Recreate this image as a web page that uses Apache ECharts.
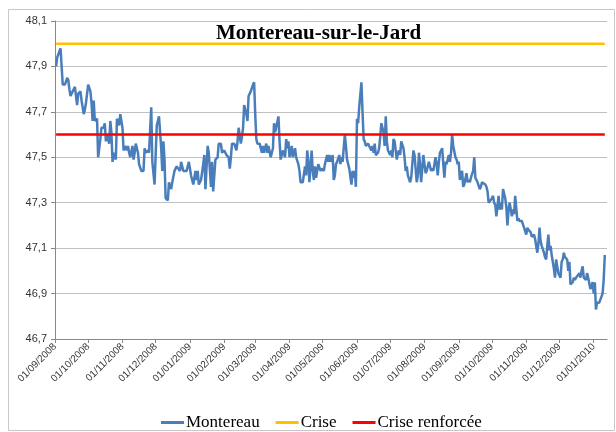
<!DOCTYPE html>
<html lang="fr">
<head>
  <meta charset="UTF-8">
  <title>Montereau-sur-le-Jard</title>
  <script src="https://cdn.jsdelivr.net/npm/echarts@6.0.0/dist/echarts.min.js"></script>
  <style>
    html, body { margin: 0; padding: 0; background: #fff; }
    #chart { width: 616px; height: 432px; }
  </style>
</head>
<body>
  <div id="chart"></div>
  <script>
    // jour 0 = 01/09/2008
    const startDate = '01/09/2008';
    const dayNo = [
      1, 2, 3, 5, 7, 9, 11, 12, 13, 14, 16, 18, 20, 21, 23, 24, 26, 27, 28, 30,
      32, 33, 34, 35, 36, 38, 39, 41, 42, 44, 45, 46, 47, 49, 50, 51, 52, 53, 55, 56,
      58, 59, 61, 62, 64, 65, 66, 67, 68, 70, 71, 72, 73, 75, 76, 78, 80, 81, 82, 84,
      85, 87, 88, 90, 91, 92, 93, 94, 96, 97, 98, 99, 100, 102, 103, 105, 106, 108, 110, 111,
      113, 114, 116, 117, 119, 121, 123, 125, 127, 128, 129, 130, 132, 134, 135, 136, 138, 139, 141, 142,
      143, 144, 145, 147, 148, 150, 151, 153, 155, 157, 158, 159, 160, 162, 164, 165, 166, 168, 169, 170,
      171, 173, 174, 175, 177, 179, 180, 181, 182, 183, 185, 187, 188, 189, 191, 192, 193, 195, 197, 198,
      199, 200, 202, 203, 204, 206, 208, 209, 210, 211, 212, 214, 215, 217, 218, 220, 221, 222, 224, 226,
      227, 228, 229, 230, 232, 233, 234, 235, 236, 238, 240, 241, 243, 244, 246, 247, 248, 249, 251, 252,
      253, 254, 255, 257, 258, 259, 260, 262, 263, 264, 265, 266, 268, 269, 270, 271, 272, 273, 274, 275,
      277, 278, 279, 280, 281, 283, 284, 286, 287, 288, 289, 290, 292, 293, 294, 295, 297, 298, 299, 300,
      301, 303, 304, 305, 306, 307, 309, 310, 311, 312, 313, 315, 316, 317, 318, 319, 321, 322, 323, 324,
      325, 327, 328, 329, 330, 331, 333, 334, 335, 336, 338, 339, 340, 341, 342, 344, 345, 346, 347, 348,
      350, 351, 352, 353, 354, 356, 357, 358, 359, 360, 362, 363, 364, 365, 366, 368, 369, 370, 372, 373,
      374, 375, 376, 378, 379, 380, 381, 382, 384, 385, 386, 387, 389, 390, 391, 392, 393, 395, 396, 397,
      398, 399, 401, 402, 403, 404, 405, 407, 408, 409, 410, 411, 413, 414, 415, 416, 418, 419, 420, 421,
      422, 424, 425, 426, 427, 428, 430, 431, 432, 433, 434, 436, 437, 438, 439, 440, 442, 443, 444, 445,
      446, 447, 448, 449, 451, 452, 453, 454, 455, 457, 458, 459, 460, 461, 463, 464, 465, 466, 468, 469,
      470, 471, 472, 474, 475, 476, 477, 478, 480, 481, 482, 483, 484, 486, 487, 488, 489, 490, 491, 492,
      493, 495, 496, 497
    ];
    const montereau = [
      47.90, 47.94, 47.94, 47.98, 47.82, 47.82, 47.85, 47.84, 47.80, 47.77, 47.79, 47.81, 47.73, 47.78, 47.79, 47.75, 47.69, 47.71, 47.74, 47.82,
      47.79, 47.74, 47.66, 47.75, 47.66, 47.67, 47.50, 47.58, 47.63, 47.63, 47.65, 47.57, 47.60, 47.56, 47.66, 47.61, 47.48, 47.52, 47.49, 47.67,
      47.64, 47.69, 47.63, 47.53, 47.55, 47.53, 47.55, 47.52, 47.50, 47.55, 47.49, 47.52, 47.56, 47.52, 47.47, 47.44, 47.44, 47.54, 47.52, 47.53,
      47.52, 47.72, 47.48, 47.38, 47.51, 47.64, 47.66, 47.68, 47.54, 47.44, 47.57, 47.49, 47.32, 47.31, 47.39, 47.36, 47.39, 47.44, 47.46, 47.46,
      47.44, 47.48, 47.44, 47.44, 47.44, 47.48, 47.42, 47.38, 47.44, 47.40, 47.44, 47.38, 47.40, 47.47, 47.51, 47.36, 47.55, 47.52, 47.37, 47.48,
      47.35, 47.42, 47.49, 47.50, 47.56, 47.56, 47.52, 47.53, 47.51, 47.50, 47.45, 47.50, 47.56, 47.56, 47.53, 47.57, 47.63, 47.56, 47.59, 47.63,
      47.73, 47.69, 47.66, 47.77, 47.79, 47.82, 47.83, 47.69, 47.58, 47.56, 47.56, 47.52, 47.55, 47.52, 47.56, 47.52, 47.55, 47.50, 47.54, 47.65,
      47.61, 47.61, 47.68, 47.57, 47.49, 47.53, 47.50, 47.58, 47.54, 47.57, 47.50, 47.55, 47.50, 47.54, 47.50, 47.47, 47.44, 47.39, 47.39, 47.46,
      47.42, 47.53, 47.48, 47.39, 47.53, 47.44, 47.40, 47.46, 47.41, 47.47, 47.44, 47.45, 47.44, 47.47, 47.51, 47.48, 47.51, 47.48, 47.51, 47.40,
      47.42, 47.47, 47.48, 47.51, 47.47, 47.50, 47.48, 47.60, 47.55, 47.49, 47.49, 47.45, 47.38, 47.44, 47.41, 47.44, 47.37, 47.67, 47.65, 47.72,
      47.83, 47.70, 47.58, 47.57, 47.55, 47.56, 47.55, 47.53, 47.55, 47.52, 47.56, 47.51, 47.52, 47.54, 47.59, 47.65, 47.61, 47.55, 47.68, 47.57,
      47.53, 47.51, 47.53, 47.50, 47.58, 47.57, 47.49, 47.52, 47.53, 47.51, 47.57, 47.54, 47.50, 47.44, 47.46, 47.42, 47.39, 47.41, 47.47, 47.53,
      47.51, 47.39, 47.42, 47.52, 47.47, 47.39, 47.51, 47.47, 47.43, 47.44, 47.48, 47.46, 47.44, 47.45, 47.44, 47.50, 47.47, 47.42, 47.48, 47.52,
      47.54, 47.47, 47.41, 47.48, 47.47, 47.51, 47.48, 47.52, 47.60, 47.55, 47.50, 47.49, 47.47, 47.48, 47.40, 47.44, 47.37, 47.38, 47.43, 47.39,
      47.40, 47.39, 47.41, 47.44, 47.50, 47.41, 47.40, 47.39, 47.36, 47.37, 47.39, 47.39, 47.38, 47.37, 47.35, 47.30, 47.30, 47.32, 47.33, 47.30,
      47.29, 47.24, 47.33, 47.27, 47.30, 47.27, 47.36, 47.32, 47.28, 47.20, 47.27, 47.30, 47.24, 47.27, 47.25, 47.33, 47.22, 47.23, 47.22, 47.22,
      47.22, 47.19, 47.19, 47.16, 47.19, 47.18, 47.17, 47.15, 47.15, 47.16, 47.14, 47.08, 47.12, 47.19, 47.13, 47.11, 47.08, 47.06, 47.05, 47.11,
      47.16, 47.09, 47.11, 47.07, 47.01, 46.97, 47.05, 47.05, 46.99, 46.97, 47.04, 47.05, 47.08, 47.06, 47.05, 47.00, 47.04, 46.94, 46.95, 46.97,
      46.96, 46.97, 46.97, 46.99, 46.97, 47.00, 47.02, 46.97, 46.96, 46.99, 46.97, 46.97, 46.92, 46.95, 46.90, 46.95, 46.83, 46.86, 46.86, 46.86,
      46.86, 46.90, 46.96, 47.07
    ];
    const crise = 48.0;
    const criseRenforcee = 47.6;

    const monthLabels = [
      '01/09/2008', '01/10/2008', '01/11/2008', '01/12/2008', '01/01/2009', '01/02/2009',
      '01/03/2009', '01/04/2009', '01/05/2009', '01/06/2009', '01/07/2009', '01/08/2009',
      '01/09/2009', '01/10/2009', '01/11/2009', '01/12/2009', '01/01/2010'
    ];
    const yTicks = [46.7, 46.9, 47.1, 47.3, 47.5, 47.7, 47.9, 48.1];

    // dd/mm/yyyy -> nombre de jours depuis startDate
    function toDay(s) {
      const p = s.split('/');
      const p0 = startDate.split('/');
      return Math.round((Date.UTC(+p[2], +p[1] - 1, +p[0]) - Date.UTC(+p0[2], +p0[1] - 1, +p0[0])) / 86400000);
    }
    const monthDays = monthLabels.map(toDay);
    const labelOf = {};
    monthDays.forEach((d, i) => { labelOf[d] = monthLabels[i]; });

    const chart = echarts.init(document.getElementById('chart'));
    chart.setOption({
      animation: false,
      backgroundColor: '#fff',
      title: {
        text: 'Montereau-sur-le-Jard',
        left: 211, top: 18,
        textStyle: { fontFamily: 'Liberation Serif', fontWeight: 'bold', fontSize: 21, color: '#000' }
      },
      graphic: [{
        type: 'rect', shape: { x: 8.5, y: 9.5, width: 606, height: 421 },
        style: { fill: 'none', stroke: '#c8c8c8', lineWidth: 1 }, silent: true, z: -1
      }],
      legend: {
        left: 156, top: 409,
        icon: 'rect', itemWidth: 23, itemHeight: 3, itemGap: 16,
        textStyle: { fontFamily: 'Liberation Serif', fontSize: 17, color: '#000', padding: [0, 0, 0, -3] },
        data: ['Montereau', 'Crise', 'Crise renforcée']
      },
      grid: { left: 55, right: 9, top: 21, bottom: 93, containLabel: false },
      xAxis: {
        type: 'value', min: 0, max: 499,
        axisLine: { lineStyle: { color: '#888', width: 1 } },
        axisTick: { show: true, length: 4, customValues: monthDays, lineStyle: { color: '#888' } },
        axisLabel: {
          customValues: monthDays, rotate: 45, margin: 6,
          fontFamily: 'Liberation Sans', fontSize: 10, color: '#333',
          formatter: v => labelOf[Math.round(v)] || ''
        },
        splitLine: { show: false }
      },
      yAxis: {
        type: 'value', min: 46.7, max: 48.1,
        axisLine: { show: true, lineStyle: { color: '#888', width: 1 } },
        axisTick: { show: true, length: 4, customValues: yTicks, lineStyle: { color: '#888' } },
        axisLabel: {
          customValues: yTicks, margin: 8,
          fontFamily: 'Liberation Sans', fontSize: 11, color: '#333',
          formatter: v => v.toFixed(1).replace('.', ',')
        },
        splitLine: { show: true, lineStyle: { color: '#c0c0c0', width: 1 } }
      },
      series: [
        {
          name: 'Montereau', type: 'line', showSymbol: false, symbol: 'none',
          data: dayNo.map((d, i) => [d, montereau[i]]),
          itemStyle: { color: '#4a7ebb' },
          lineStyle: { color: '#4a7ebb', width: 2.5 }, z: 2
        },
        {
          name: 'Crise', type: 'line', showSymbol: false, symbol: 'none',
          data: dayNo.map(d => [d, crise]),
          itemStyle: { color: '#ffc000' },
          lineStyle: { color: '#ffc000', width: 2.5 }, z: 3
        },
        {
          name: 'Crise renforcée', type: 'line', showSymbol: false, symbol: 'none',
          data: dayNo.map(d => [d, criseRenforcee]),
          itemStyle: { color: '#ff0000' },
          lineStyle: { color: '#ff0000', width: 2.5 }, z: 4
        }
      ]
    });
  </script>
</body>
</html>
